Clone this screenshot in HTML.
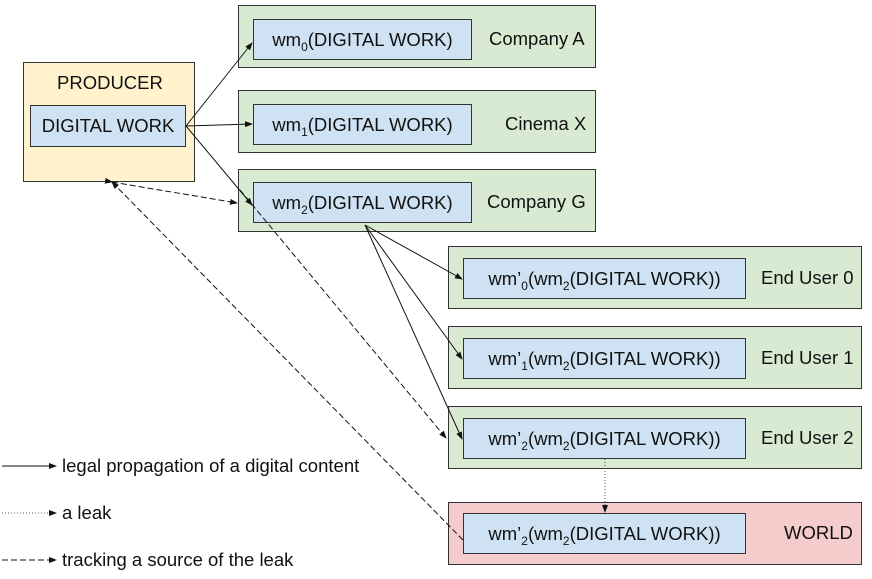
<!DOCTYPE html>
<html><head><meta charset="utf-8"><style>
body{margin:0;width:872px;height:579px;background:#fff;position:relative;font-family:"Liberation Sans",sans-serif;overflow:hidden}
.b{position:absolute;box-sizing:border-box;border:1px solid #333}
.g{background:#d9ead3}.y{background:#fff2cc}.p{background:#f4cccc}
.i{background:#cfe2f3;display:flex;align-items:center;justify-content:center;font-size:18.5px;color:#111}
.t{position:absolute;font-size:18.5px;color:#111;white-space:nowrap}
sub{font-size:12px;position:relative;top:5px;vertical-align:baseline;line-height:0}
svg{position:absolute;left:0;top:0}
</style></head><body>
<div class="b y" style="left:23px;top:62px;width:172px;height:120px"></div>
<div class="t" style="left:57px;top:72px">PRODUCER</div>
<div class="b i" style="left:30px;top:105px;width:156px;height:42px"><span>DIGITAL WORK</span></div>

<div class="b g" style="left:238px;top:5px;width:358px;height:63px"></div>
<div class="b i" style="left:253px;top:19px;width:219px;height:41px"><span>wm<sub>0</sub>(DIGITAL WORK)</span></div>
<div class="t" style="left:489px;top:28px">Company A</div>

<div class="b g" style="left:238px;top:90px;width:358px;height:63px"></div>
<div class="b i" style="left:253px;top:104px;width:219px;height:41px"><span>wm<sub>1</sub>(DIGITAL WORK)</span></div>
<div class="t" style="left:505px;top:113px">Cinema X</div>

<div class="b g" style="left:238px;top:169px;width:358px;height:63px"></div>
<div class="b i" style="left:253px;top:182px;width:219px;height:41px"><span>wm<sub>2</sub>(DIGITAL WORK)</span></div>
<div class="t" style="left:487px;top:191px">Company G</div>

<div class="b g" style="left:448px;top:246px;width:414px;height:63px"></div>
<div class="b i" style="left:463px;top:258px;width:283px;height:41px"><span>wm’<sub>0</sub>(wm<sub>2</sub>(DIGITAL WORK))</span></div>
<div class="t" style="left:761px;top:267px">End User 0</div>

<div class="b g" style="left:448px;top:326px;width:414px;height:63px"></div>
<div class="b i" style="left:463px;top:338px;width:283px;height:41px"><span>wm’<sub>1</sub>(wm<sub>2</sub>(DIGITAL WORK))</span></div>
<div class="t" style="left:761px;top:347px">End User 1</div>

<div class="b g" style="left:448px;top:406px;width:414px;height:63px"></div>
<div class="b i" style="left:463px;top:418px;width:283px;height:41px"><span>wm’<sub>2</sub>(wm<sub>2</sub>(DIGITAL WORK))</span></div>
<div class="t" style="left:761px;top:427px">End User 2</div>

<div class="b p" style="left:448px;top:502px;width:414px;height:63px"></div>
<div class="b i" style="left:463px;top:513px;width:283px;height:41px"><span>wm’<sub>2</sub>(wm<sub>2</sub>(DIGITAL WORK))</span></div>
<div class="t" style="left:784px;top:522px">WORLD</div>

<div class="t" style="left:62px;top:455px">legal propagation of a digital content</div>
<div class="t" style="left:62px;top:502px">a leak</div>
<div class="t" style="left:62px;top:549px">tracking a source of the leak</div>

<svg width="872" height="579">
<defs><marker id="a" markerWidth="8" markerHeight="6" refX="7" refY="3" orient="auto" markerUnits="userSpaceOnUse"><path d="M0,0L8,3L0,6z" fill="#111"/></marker></defs>
<g stroke="#111" stroke-width="1" fill="none" marker-end="url(#a)">
<line x1="186" y1="126" x2="252" y2="43"/>
<line x1="186" y1="126" x2="252" y2="124"/>
<line x1="186" y1="126" x2="252" y2="205"/>
<line x1="365" y1="225" x2="462" y2="279"/>
<line x1="365" y1="225" x2="462" y2="359"/>
<line x1="365" y1="225" x2="462" y2="439"/>
<line x1="2" y1="466" x2="56" y2="466"/>
</g>
<g stroke="#111" stroke-width="1" fill="none" stroke-dasharray="6,3">
<line x1="112" y1="182" x2="237" y2="203" marker-end="url(#a)" marker-start="url(#a)"/>
<line x1="463" y1="540" x2="112" y2="182" marker-end="url(#a)"/>
<line x1="240" y1="190" x2="446" y2="438" marker-end="url(#a)"/>
<line x1="2" y1="560" x2="56" y2="560" marker-end="url(#a)"/>
</g>
<g stroke="#555" stroke-width="1" fill="none" stroke-dasharray="1,2" marker-end="url(#a)">
<line x1="605" y1="459" x2="605" y2="512"/>
<line x1="2" y1="513" x2="56" y2="513"/>
</g>
</svg>
</body></html>
